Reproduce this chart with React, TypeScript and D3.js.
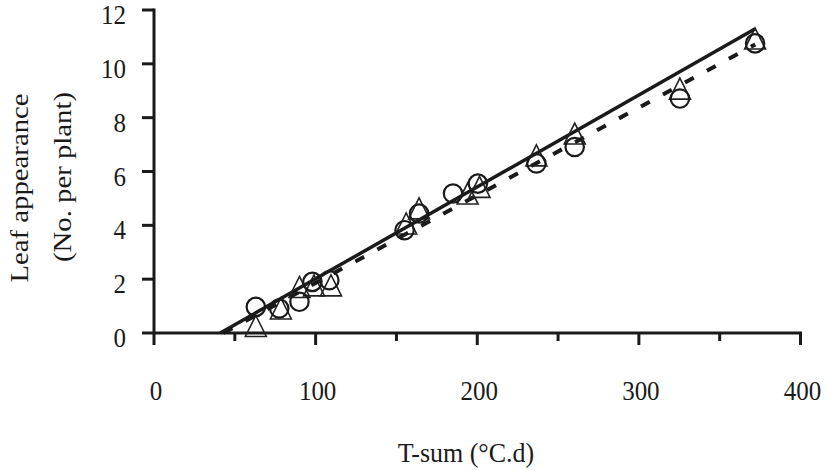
import { useEffect, useRef } from "react"
import * as d3 from "d3"

// observed leaf appearance, two treatments
const circleTsum = [63, 77.5, 90, 98, 108.5, 155, 164, 185, 200.4, 236.6, 260.3, 325.4, 371.9]
const circleLeaves = [0.97, 0.91, 1.16, 1.9, 1.96, 3.82, 4.44, 5.18, 5.55, 6.3, 6.91, 8.71, 10.76]
const triangleTsum = [63, 78.5, 90, 99, 109.5, 156, 164, 194, 201.4, 236.6, 260.3, 325.4, 371.9]
const triangleLeaves = [0.26, 0.91, 1.71, 1.77, 1.77, 4.07, 4.63, 5.18, 5.43, 6.6, 7.41, 9.08, 10.94]

// fitted regression lines (end points)
const solidFitTsum = [41, 372]
const solidFitLeaves = [0, 11.3]
const dashedFitTsum = [43, 372]
const dashedFitLeaves = [0, 10.72]

const xTicks = [0, 100, 200, 300, 400]
const xMinorTicks = [50, 150, 250, 350]
const yTicks = [0, 2, 4, 6, 8, 10, 12]

export default function App() {
  const svgRef = useRef<SVGSVGElement>(null)

  useEffect(() => {
    if (!svgRef.current) return
    const svg = d3.select(svgRef.current)
    svg.selectAll("*").remove()

    const font = "'Liberation Serif', 'Times New Roman', serif"
    const ink = "#1a1a1a"

    const x = d3.scaleLinear().domain([0, 400]).range([154, 800.5])
    const y = d3.scaleLinear().domain([0, 12]).range([333, 10])

    const g = svg.append("g")

    // axis lines
    g.append("line")
      .attr("x1", x(0)).attr("x2", x(0))
      .attr("y1", y(12) - 1.5).attr("y2", y(0))
      .style("stroke", ink).style("stroke-width", 3)
    g.append("line")
      .attr("x1", x(0)).attr("x2", x(400) + 1.5)
      .attr("y1", y(0)).attr("y2", y(0))
      .style("stroke", ink).style("stroke-width", 3)

    // y ticks + labels
    yTicks.forEach(t => {
      g.append("line")
        .attr("x1", x(0) - 12).attr("x2", x(0))
        .attr("y1", y(t)).attr("y2", y(t))
        .style("stroke", ink).style("stroke-width", 3)
      g.append("text")
        .attr("transform", `translate(126,${y(t) + 14}) scale(1,1.08)`)
        .attr("text-anchor", "end")
        .style("font-family", font)
        .style("font-size", "25px")
        .style("fill", ink)
        .text(t)
    })

    // x ticks + labels
    xTicks.forEach(t => {
      g.append("line")
        .attr("x1", x(t)).attr("x2", x(t))
        .attr("y1", y(0)).attr("y2", y(0) + 12)
        .style("stroke", ink).style("stroke-width", 3)
      g.append("text")
        .attr("transform", `translate(${x(t) + 2},400) scale(1,1.08)`)
        .attr("text-anchor", "middle")
        .style("font-family", font)
        .style("font-size", "25px")
        .style("fill", ink)
        .text(t)
    })
    xMinorTicks.forEach(t => {
      g.append("line")
        .attr("x1", x(t)).attr("x2", x(t))
        .attr("y1", y(0)).attr("y2", y(0) + 8)
        .style("stroke", ink).style("stroke-width", 3)
    })

    // axis titles
    g.append("text")
      .attr("transform", "translate(466,462) scale(1,1.08)")
      .attr("text-anchor", "middle")
      .style("font-family", font)
      .style("font-size", "26px")
      .style("fill", ink)
      .text("T-sum (°C.d)")

    const yTitle = [
      { text: "Leaf appearance", bx: 28, cy: 188 },
      { text: "(No. per plant)", bx: 71, cy: 177 },
    ]
    yTitle.forEach(l => {
      g.append("text")
        .attr("transform", `translate(${l.bx},${l.cy}) rotate(-90) scale(1.15,1)`)
        .attr("text-anchor", "middle")
        .style("font-family", font)
        .style("font-size", "25px")
        .style("fill", ink)
        .text(l.text)
    })

    // regression lines
    const lineGen = d3.line<[number, number]>().x(d => x(d[0])).y(d => y(d[1]))
    const solidPts = solidFitTsum.map((t, i) => [t, solidFitLeaves[i]] as [number, number])
    const dashedPts = dashedFitTsum.map((t, i) => [t, dashedFitLeaves[i]] as [number, number])

    g.append("path")
      .attr("d", lineGen(dashedPts))
      .style("fill", "none")
      .style("stroke", ink)
      .style("stroke-width", 4)
      .style("stroke-dasharray", "10,15")

    g.append("path")
      .attr("d", lineGen(solidPts))
      .style("fill", "none")
      .style("stroke", ink)
      .style("stroke-width", 3.5)

    // triangles
    const tw = 21
    const th = 21
    triangleTsum.forEach((t, i) => {
      const cx = x(t)
      const cy = y(triangleLeaves[i])
      g.append("path")
        .attr("d", `M${cx},${cy - th / 2}L${cx + tw / 2},${cy + th / 2}L${cx - tw / 2},${cy + th / 2}Z`)
        .style("fill", "none")
        .style("stroke", "#222")
        .style("stroke-width", 1.6)
    })

    // circles
    circleTsum.forEach((t, i) => {
      g.append("circle")
        .attr("cx", x(t))
        .attr("cy", y(circleLeaves[i]))
        .attr("r", 9.2)
        .style("fill", "none")
        .style("stroke", ink)
        .style("stroke-width", 2.2)
    })
  }, [])

  return (
    <svg
      ref={svgRef}
      width={825}
      height={470}
      style={{ position: "absolute", left: 0, top: 0, background: "#fff" }}
    />
  )
}
